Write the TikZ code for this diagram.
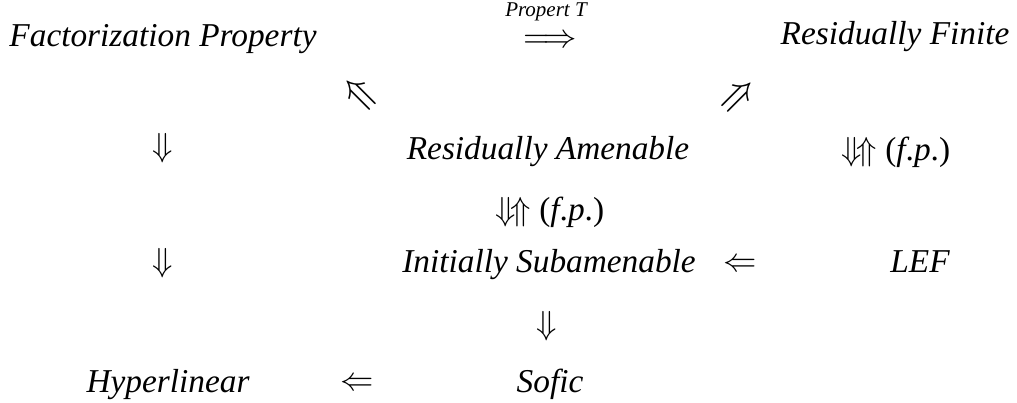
\documentclass[tikz,border=0pt]{standalone}
\usepackage{fontspec}
\setmainfont{Liberation Serif}
\begin{document}
\begin{tikzpicture}[x=0.3pt,y=-0.3pt,
  lbl/.style={font=\fontsize{10}{12}\selectfont\itshape, inner sep=0pt, anchor=base},
  arr/.style={font=\fontsize{10}{12}\selectfont, inner sep=0pt},
  small/.style={font=\fontsize{6.3}{7}\selectfont\itshape, inner sep=0pt, anchor=base}]
\useasboundingbox (0,0) rectangle (1017,402);
% row 1
\node[lbl] (fp) at (163,47) {Factorization Property};
\node[lbl] (rf) at (895,45) {Residually Finite};
\node[arr, text height=1.1ex, text depth=0pt] (t1) at (550,39) {$\Longrightarrow$};
\node[small] (pt) at (546,17) {Propert T};
% diagonal
\node[arr, rotate=45, scale=1.25] (d1) at (360,94) {$\Uparrow$};
\node[arr, rotate=-45, scale=1.25] (d2) at (738,96) {$\Uparrow$};
% row 3
\node[arr] (a1) at (163,148) {$\Downarrow$};
\node[lbl] (ra) at (548,159) {Residually Amenable};
\node[lbl] (e1) at (896,160) {$\Downarrow\!\Uparrow$ {\upshape(}f{\upshape.}p{\upshape.)}};
% row 4
\node[lbl] (e2) at (550,220) {$\Downarrow\!\Uparrow$ {\upshape(}f{\upshape.}p{\upshape.)}};
% row 5
\node[arr] (a2) at (163,263) {$\Downarrow$};
\node[lbl] (is) at (549,272) {Initially Subamenable};
\node[arr] (l1) at (740,265) {$\Leftarrow$};
\node[lbl] (lef) at (920,272) {LEF};
% row 6
\node[arr] (a3) at (547,326) {$\Downarrow$};
% row 7
\node[lbl] (hl) at (168,392) {Hyperlinear};
\node[arr] (l2) at (357,384) {$\Leftarrow$};
\node[lbl] (so) at (550,392) {Sofic};
\end{tikzpicture}
\end{document}
